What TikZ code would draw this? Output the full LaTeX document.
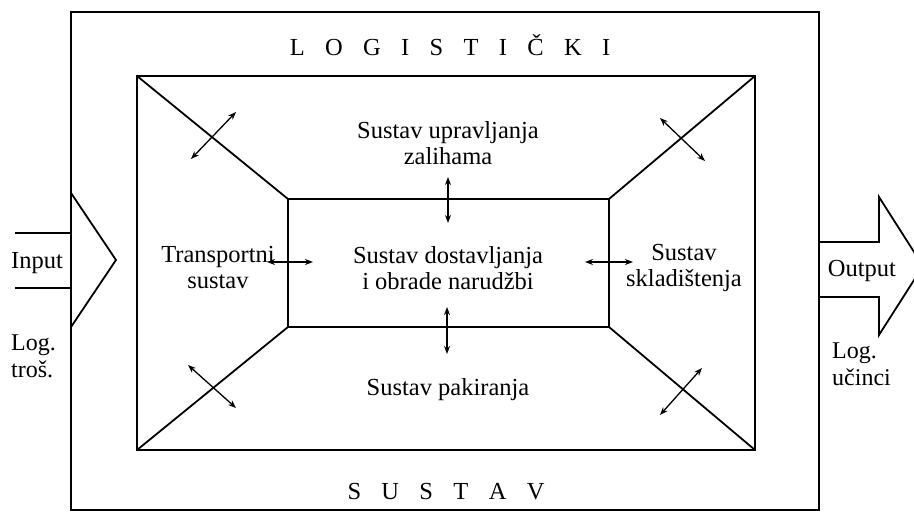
\documentclass[tikz,border=0pt]{standalone}
\usepackage{fontspec}
\setmainfont{Liberation Serif}
\usetikzlibrary{arrows.meta}
\newcommand{\lsp}{\hspace{0.83em}}
\begin{document}
\begin{tikzpicture}[x=1pt,y=-1pt,
  frame/.style={line width=1.8pt, line join=miter},
  dbl/.style={line width=1.3pt,{Stealth[length=8pt,width=6pt]}-{Stealth[length=8pt,width=6pt]}},
  lbl/.style={font=\fontsize{24.5}{26}\selectfont, align=center, inner sep=0pt},
  side/.style={font=\fontsize{24}{27}\selectfont, align=left, inner sep=0pt, anchor=west}]
\useasboundingbox (0,0) rectangle (914,518);
% boxes
\coordinate (oTL) at (71,12);   \coordinate (oBR) at (819,510);
\coordinate (mTL) at (137,76);  \coordinate (mTR) at (755,76);
\coordinate (mBL) at (137,450); \coordinate (mBR) at (755,450);
\coordinate (iTL) at (288,199); \coordinate (iTR) at (609,199);
\coordinate (iBL) at (288,327); \coordinate (iBR) at (609,327);
\draw[frame] (oTL) rectangle (oBR);
\draw[frame] (mTL) rectangle (mBR);
\draw[frame] (iTL) rectangle (iBR);
\draw[frame] (mTL) -- (iTL);
\draw[frame] (mTR) -- (iTR);
\draw[frame] (mBL) -- (iBL);
\draw[frame] (mBR) -- (iBR);
% input arrow
\coordinate (inA) at (15,233); \coordinate (inB) at (71,233);
\coordinate (inC) at (15,288); \coordinate (inD) at (71,288);
\coordinate (inH1) at (71,193); \coordinate (inTip) at (116,260); \coordinate (inH2) at (71,327);
\draw[frame] (inA) -- (inB);
\draw[frame] (inC) -- (inD);
\draw[frame] (inH1) -- (inTip) -- (inH2);
% output arrow
\coordinate (ou1) at (819,242); \coordinate (ou2) at (879,242); \coordinate (ou3) at (879,197);
\coordinate (ouTip) at (923,266); \coordinate (ou5) at (879,335); \coordinate (ou6) at (879,297);
\coordinate (ou7) at (819,297);
\draw[frame] (ou1) -- (ou2) -- (ou3) -- (ouTip) -- (ou5) -- (ou6) -- (ou7);
% titles
\node[lbl] (tlog) at (450,45) {L\lsp O\lsp G\lsp I\lsp S\lsp T\lsp I\lsp Č\lsp K\lsp I};
\node[lbl] (tsus) at (446,492) {S\lsp U\lsp S\lsp T\lsp A\lsp V};
% labels
\node[lbl] (zal) at (448,143) {Sustav upravljanja\\zalihama};
\node[lbl] (dos) at (448,268) {Sustav dostavljanja\\i obrade narudžbi};
\node[lbl] (tra) at (218,268) {Transportni\\sustav};
\node[lbl] (skl) at (684,268) {Sustav\\skladištenja};
\node[lbl] (pak) at (448,390) {Sustav pakiranja};
\node[lbl] (inp) at (37,263) {Input};
\node[side] (ltr) at (11,356) {Log.\\troš.};
\node[lbl] (out) at (862,271) {Output};
\node[side] (luc) at (832,364) {Log.\\učinci};
% small double arrows
\coordinate (a1s) at (448,177); \coordinate (a1e) at (448,223);
\coordinate (a2s) at (447,307); \coordinate (a2e) at (447,354);
\coordinate (a3s) at (267,262); \coordinate (a3e) at (313,262);
\coordinate (a4s) at (585,262); \coordinate (a4e) at (633,262);
\coordinate (a5s) at (191,159); \coordinate (a5e) at (236,112);
\coordinate (a6s) at (660,118); \coordinate (a6e) at (705,161);
\coordinate (a7s) at (188,365); \coordinate (a7e) at (236,408);
\coordinate (a8s) at (660,415); \coordinate (a8e) at (702,368);
\draw[dbl] (a1s) -- (a1e);
\draw[dbl] (a2s) -- (a2e);
\draw[dbl] (a3s) -- (a3e);
\draw[dbl] (a4s) -- (a4e);
\draw[dbl] (a5s) -- (a5e);
\draw[dbl] (a6s) -- (a6e);
\draw[dbl] (a7s) -- (a7e);
\draw[dbl] (a8s) -- (a8e);
\end{tikzpicture}
\end{document}
